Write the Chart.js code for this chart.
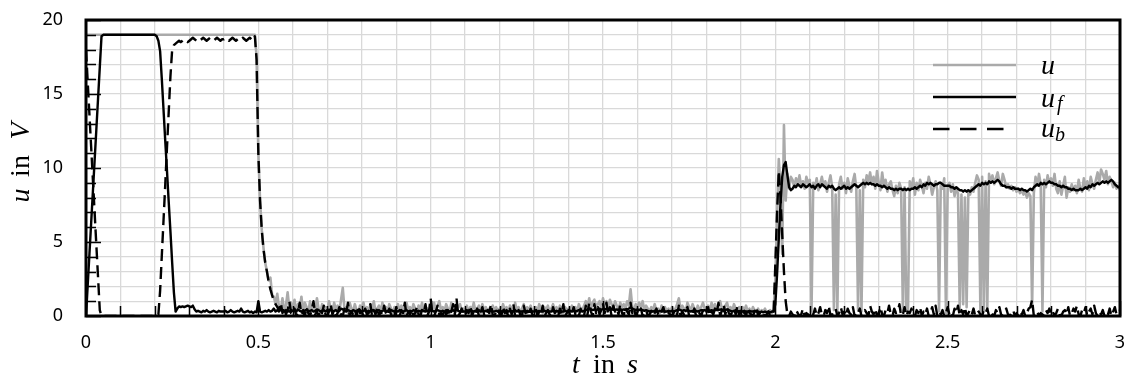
<!DOCTYPE html>
<html>
<head>
<meta charset="utf-8">
<script src="https://cdn.jsdelivr.net/npm/chart.js@4.4.1/dist/chart.umd.min.js"></script>
<style>
  html, body { margin: 0; padding: 0; background: #fff; }
</style>
</head>
<body>
<canvas id="voltage" width="1132" height="378"></canvas>
<script>
// sampling step of the recorded signals (s)
const dt = 0.005;

// measured voltage u, one row per 0.1 s
const u = [
  19, 19, 19, 19, 19, 19, 19, 19, 19, 19, 19, 19, 19, 19, 19, 19, 19, 19, 19, 19,
  19, 19, 19, 19, 19, 19, 19, 19, 19, 19, 19, 19, 19, 19, 19, 19, 19, 19, 19, 19,
  19, 19, 19, 19, 19, 19, 19, 19, 19, 19, 19, 19, 19, 19, 19, 19, 19, 19, 19, 19,
  19, 19, 19, 19, 19, 19, 19, 19, 19, 19, 19, 19, 19, 19, 19, 19, 19, 19, 19, 19,
  19, 19, 19, 19, 19, 19, 19, 19, 19, 19, 19, 19, 19, 19, 19, 19, 19, 19, 19, 17.5,
  11, 7.8, 5.8, 4.6, 3.6, 3.0, 2.4, 2.6, 1.4, 1.3, 0.8, 1.5, 0.6, 0.4, 1.2, 0.3, 0.7, 1.6, 0.5, 0.9,
  0.4, 1.1, 0.2, 0.8, 0.5, 1.3, 0.3, 0.9, 0.6, 0.2, 1.0, 0.4, 0.7, 0.3, 1.2, 0.5, 0.2, 0.8, 0.4, 0.6,
  0.3, 1.0, 0.5, 0.2, 0.9, 0.4, 0.7, 0.3, 1.1, 1.9, 0.4, 0.6, 0.2, 0.9, 0.5, 0.3, 0.8, 0.4, 0.2, 0.7,
  0.5, 0.9, 0.3, 0.6, 0.2, 0.8, 0.4, 1.0, 0.3, 0.5, 0.7, 0.2, 0.9, 0.4, 0.6, 0.3, 0.8, 0.5, 0.2, 0.6,
  0.4, 0.8, 0.3, 0.7, 0.5, 0.2, 0.9, 0.4, 0.6, 0.3, 0.8, 0.5, 0.2, 0.7, 0.4, 0.9, 0.3, 0.6, 0.5, 0.2,
  0.6, 0.4, 0.9, 0.3, 0.7, 1.0, 0.4, 0.6, 0.3, 0.8, 0.5, 0.2, 0.9, 0.4, 0.7, 0.3, 0.6, 0.8, 0.4, 0.5,
  0.3, 0.7, 0.2, 0.6, 0.4, 0.9, 0.3, 0.5, 0.7, 0.2, 0.8, 0.4, 0.6, 0.3, 0.5, 0.2, 0.7, 0.4, 0.6, 0.3,
  0.5, 0.3, 0.8, 0.4, 0.6, 0.2, 0.7, 0.5, 0.3, 0.9, 0.4, 0.6, 0.2, 0.5, 0.8, 0.3, 0.6, 0.4, 0.7, 0.3,
  0.4, 0.6, 0.3, 0.8, 0.5, 0.2, 0.6, 0.4, 0.7, 0.3, 0.5, 0.8, 0.4, 0.6, 0.3, 0.7, 0.5, 0.2, 0.6, 0.4,
  0.5, 0.3, 0.7, 0.4, 0.6, 0.3, 0.8, 0.5, 0.4, 0.7, 1.0, 0.6, 1.2, 0.5, 0.9, 1.1, 0.6, 0.8, 1.0, 0.5,
  1.2, 0.7, 1.0, 0.6, 1.1, 0.8, 0.5, 1.0, 0.7, 0.4, 0.9, 0.6, 0.8, 0.5, 1.0, 0.7, 1.8, 0.6, 0.4, 0.8,
  0.5, 0.9, 0.6, 1.0, 0.4, 0.7, 0.5, 0.3, 0.6, 0.4, 0.8, 0.3, 0.5, 0.2, 0.7, 0.4, 0.6, 0.3, 0.5, 0.2,
  0.6, 0.3, 0.5, 0.8, 1.2, 0.4, 0.7, 0.5, 0.3, 0.9, 0.6, 0.4, 0.8, 0.5, 0.3, 0.7, 0.4, 0.6, 0.9, 0.5,
  0.4, 0.7, 0.3, 0.9, 0.5, 0.8, 0.4, 0.6, 1.0, 0.5, 0.3, 0.7, 0.9, 0.4, 0.6, 0.3, 0.8, 0.5, 0.4, 0.6,
  0.3, 0.6, 0.4, 0.7, 0.3, 0.5, 0.2, 0.6, 0.4, 0.3, 0.5, 0.2, 0.4, 0.3, 0.5, 0.2, 0.3, 0.4, 0.2, 0.4,
  2.5, 6.5, 10.6, 8.5, 4.2, 12.9, 7.8, 9.6, 8.6, 9.4, 9.2, 8.7, 9.3, 8.9, 9.5, 8.8, 9.1, 8.6, 9.4, 9.0,
  9.2, 0.3, 9.0, 8.7, 9.3, 8.5, 8.9, 9.4, 8.8, 9.1, 8.4, 9.0, 9.5, 8.7, 0.4, 8.2, 0.3, 8.9, 9.4, 8.6,
  9.0, 8.3, 9.3, 8.8, 8.4, 9.1, 9.6, 8.6, 0.4, 8.5, 0.3, 9.2, 8.7, 9.5, 9.1, 9.7, 8.9, 9.4, 8.6, 9.8,
  9.0, 8.5, 9.7, 8.8, 9.2, 8.4, 8.9, 9.1, 8.5, 8.1, 8.8, 8.3, 9.0, 8.6, 0.4, 8.7, 0.3, 0.5, 9.1, 8.6,
  9.3, 8.2, 9.0, 8.5, 9.2, 8.8, 8.3, 9.0, 8.6, 9.4, 8.9, 8.2, 8.7, 9.1, 8.5, 0.3, 9.0, 8.6, 9.3, 0.2,
  8.8, 9.0, 8.4, 8.9, 8.1, 8.6, 8.3, 0.5, 8.2, 0.8, 8.0, 0.6, 8.5, 8.2, 8.7, 8.4, 9.0, 9.5, 9.2, 0.3,
  9.4, 0.4, 9.1, 0.5, 9.6, 9.0, 9.5, 8.9, 9.3, 9.7, 9.1, 8.8, 9.6, 9.2, 8.7, 8.9, 8.6, 8.8, 8.5, 8.7,
  8.4, 8.6, 8.3, 8.5, 8.2, 8.4, 8.0, 8.3, 8.1, 0.6, 8.3, 9.4, 8.8, 9.6, 8.9, 0.3, 9.2, 8.7, 9.5, 9.0,
  9.3, 8.8, 9.6, 8.6, 8.3, 9.1, 8.2, 8.8, 9.4, 8.0, 8.7, 8.4, 8.9, 8.5, 8.8, 8.3, 9.2, 8.6, 8.4, 9.3,
  8.7, 9.1, 8.5, 9.4, 8.9, 8.6, 9.2, 9.7, 9.0, 9.9, 9.6, 9.2, 9.8, 8.9, 9.4, 9.1, 8.7, 9.0, 8.6, 8.8,
  8.5
];

// u_f
const uF = [
  0, 2.1, 4.2, 6.3, 8.4, 10.5, 12.6, 14.7, 16.8, 18.9, 19, 19, 19, 19, 19, 19, 19, 19, 19, 19,
  19, 19, 19, 19, 19, 19, 19, 19, 19, 19, 19, 19, 19, 19, 19, 19, 19, 19, 19, 19,
  19, 18.9, 18.6, 17.9, 16.0, 13.9, 11.8, 9.8, 7.7, 5.7, 3.6, 1.6, 0.3, 0.5, 0.65, 0.6, 0.65, 0.6, 0.65, 0.7,
  0.65, 0.6, 0.7, 0.45, 0.3, 0.35, 0.3, 0.25, 0.35, 0.3, 0.4, 0.3, 0.25, 0.3, 0.35, 0.3, 0.25, 0.35, 0.3, 0.3,
  0.3, 0.35, 0.25, 0.3, 0.4, 0.3, 0.25, 0.3, 0.35, 0.3, 0.5, 0.3, 0.25, 0.3, 0.35, 0.25, 0.3, 0.2, 0.3, 0.25,
  1.0, 0.3, 0.25, 0.3, 0.35, 0.3, 0.4, 0.3, 0.35, 0.5, 0.3, 0.4, 0.3, 0.45, 0.35, 0.3, 0.4, 0.35, 0.3, 0.4,
  0.35, 0.4, 0.3, 0.45, 0.35, 0.3, 0.4, 0.35, 0.45, 0.3, 0.35, 0.4, 0.3, 0.35, 0.45, 0.4, 0.3, 0.35, 0.4, 0.3,
  0.4, 0.35, 0.45, 0.3, 0.35, 0.4, 0.3, 0.35, 0.5, 0.45, 0.35, 0.3, 0.4, 0.35, 0.3, 0.4, 0.35, 0.3, 0.35, 0.4,
  0.3, 0.35, 0.4, 0.3, 0.35, 0.3, 0.4, 0.35, 0.3, 0.35, 0.4, 0.3, 0.35, 0.4, 0.3, 0.35, 0.3, 0.4, 0.35, 0.3,
  0.35, 0.3, 0.4, 0.35, 0.3, 0.35, 0.4, 0.3, 0.35, 0.3, 0.4, 0.35, 0.3, 0.35, 0.3, 0.4, 0.35, 0.3, 0.35, 0.3,
  0.4, 0.35, 0.3, 0.35, 0.4, 0.35, 0.3, 0.35, 0.3, 0.4, 0.35, 0.3, 0.35, 0.4, 0.3, 0.45, 0.35, 0.3, 0.35, 0.3,
  0.3, 0.35, 0.3, 0.4, 0.35, 0.3, 0.35, 0.3, 0.4, 0.3, 0.35, 0.3, 0.35, 0.3, 0.4, 0.35, 0.3, 0.3, 0.35, 0.3,
  0.35, 0.3, 0.35, 0.3, 0.4, 0.3, 0.35, 0.3, 0.35, 0.4, 0.3, 0.35, 0.3, 0.3, 0.35, 0.3, 0.35, 0.3, 0.4, 0.3,
  0.3, 0.35, 0.3, 0.35, 0.3, 0.3, 0.35, 0.3, 0.35, 0.3, 0.3, 0.35, 0.3, 0.35, 0.3, 0.35, 0.3, 0.3, 0.35, 0.3,
  0.3, 0.35, 0.3, 0.35, 0.3, 0.35, 0.4, 0.35, 0.3, 0.35, 0.4, 0.45, 0.5, 0.45, 0.4, 0.45, 0.4, 0.45, 0.5, 0.4,
  0.5, 0.45, 0.5, 0.4, 0.45, 0.5, 0.45, 0.4, 0.45, 0.4, 0.45, 0.4, 0.45, 0.4, 0.45, 0.5, 0.6, 0.5, 0.45, 0.4,
  0.45, 0.4, 0.45, 0.4, 0.35, 0.4, 0.35, 0.3, 0.35, 0.3, 0.35, 0.3, 0.3, 0.35, 0.3, 0.35, 0.3, 0.3, 0.35, 0.3,
  0.35, 0.3, 0.35, 0.4, 0.45, 0.4, 0.35, 0.4, 0.35, 0.4, 0.35, 0.3, 0.35, 0.4, 0.35, 0.3, 0.35, 0.4, 0.35, 0.4,
  0.35, 0.4, 0.35, 0.4, 0.35, 0.4, 0.45, 0.4, 0.45, 0.4, 0.35, 0.4, 0.45, 0.4, 0.35, 0.3, 0.35, 0.4, 0.35, 0.3,
  0.35, 0.3, 0.35, 0.3, 0.3, 0.35, 0.3, 0.3, 0.35, 0.3, 0.3, 0.25, 0.3, 0.25, 0.3, 0.25, 0.3, 0.25, 0.3, 0.3,
  0.8, 2.8, 5.2, 7.6, 9.4, 10.2, 10.4, 9.5, 8.7, 8.5, 8.6, 8.8, 8.7, 8.9, 8.8, 8.7, 8.9, 8.8, 8.7, 8.8,
  8.9, 8.7, 8.8, 8.6, 8.8, 8.9, 8.7, 8.9, 8.8, 8.7, 8.6, 8.8, 8.7, 8.8, 8.6, 8.5, 8.6, 8.7, 8.6, 8.7,
  8.8, 8.6, 8.7, 8.6, 8.7, 8.8, 8.9, 8.8, 8.7, 8.8, 8.9, 9.0, 8.9, 9.0, 8.9, 9.0, 8.9, 8.9, 8.8, 8.9,
  8.8, 8.8, 8.7, 8.8, 8.7, 8.6, 8.7, 8.6, 8.6, 8.5, 8.6, 8.5, 8.6, 8.6, 8.5, 8.6, 8.5, 8.6, 8.5, 8.6,
  8.6, 8.7, 8.6, 8.7, 8.8, 8.7, 8.9, 8.8, 9.0, 8.9, 9.0, 8.9, 8.8, 8.9, 8.9, 9.0, 9.0, 8.9, 8.8, 8.8,
  8.8, 8.8, 8.7, 8.7, 8.6, 8.7, 8.6, 8.5, 8.5, 8.4, 8.5, 8.4, 8.5, 8.4, 8.5, 8.6, 8.7, 8.8, 8.9, 8.8,
  9.0, 8.9, 9.0, 8.9, 9.1, 9.0, 9.1, 9.0, 9.1, 9.2, 9.1, 8.9, 8.8, 8.8, 8.7, 8.7, 8.7, 8.6, 8.7, 8.6,
  8.6, 8.6, 8.5, 8.6, 8.5, 8.5, 8.4, 8.5, 8.6, 8.5, 8.7, 8.8, 8.9, 8.8, 9.0, 8.9, 9.0, 8.9, 9.0, 9.1,
  9.0, 9.0, 8.9, 8.9, 8.8, 8.8, 8.7, 8.8, 8.7, 8.7, 8.6, 8.6, 8.5, 8.6, 8.5, 8.5, 8.5, 8.6, 8.5, 8.6,
  8.7, 8.6, 8.8, 8.7, 8.9, 8.8, 8.9, 9.0, 8.9, 9.0, 9.1, 9.0, 9.1, 9.0, 9.1, 9.2, 9.1, 8.9, 8.8, 8.7,
  8.7
];

// u_b
const uB = [
  18, 15.8, 13.6, 11.4, 9.2, 7.0, 4.8, 2.6, 0.4, 0, 0, 0, 0, 0, 0, 0, 0, 0, 0, 0,
  0, 0, 0, 0, 0, 0, 0, 0, 0, 0, 0, 0, 0, 0, 0, 0, 0, 0, 0, 0,
  0, 0, 0.1, 1.7, 4.1, 6.5, 8.9, 11.4, 13.8, 16.2, 18.0, 18.3, 18.4, 18.5, 18.6, 18.5, 18.6, 18.7, 18.6, 18.5,
  18.6, 18.7, 18.8, 18.7, 18.6, 18.5, 18.6, 18.7, 18.8, 18.7, 18.6, 18.7, 18.8, 18.7, 18.6, 18.7, 18.8, 18.7, 18.6, 18.7,
  18.7, 18.8, 18.7, 18.6, 18.7, 18.8, 18.7, 18.6, 18.7, 18.8, 18.7, 18.8, 18.7, 18.6, 18.7, 18.8, 18.7, 18.6, 18.9, 17.3,
  11, 7.8, 5.8, 4.5, 3.6, 3.0, 2.3, 1.8, 1.4, 1.0, 0.8, 0.6, 0.4, 0.9, 0.2, 0.6, 0.1, 0.4, 1.0, 0.2,
  0.1, 0.5, 0.0, 0.2, 0.9, 0.1, 0.3, 0.0, 0.6, 0.2, 0.0, 0.4, 1.0, 0.1, 0.3, 0.0, 0.5, 0.2, 0.7, 0.1,
  0.0, 0.3, 0.8, 0.1, 0.4, 0.0, 0.2, 0.6, 0.1, 0.0, 0.5, 0.2, 0.9, 0.0, 0.3, 0.1, 0.4, 0.0, 0.7, 0.2,
  0.3, 0.0, 0.5, 0.1, 0.2, 0.8, 0.0, 0.4, 0.1, 0.6, 0.0, 0.3, 0.1, 0.7, 0.2, 0.0, 0.5, 0.1, 0.3, 0.0,
  0.6, 0.1, 0.0, 0.4, 0.2, 0.9, 0.0, 0.3, 0.1, 0.5, 0.0, 0.2, 0.6, 0.1, 0.0, 0.4, 0.2, 0.8, 0.0, 0.3,
  1.2, 0.1, 0.0, 0.3, 0.7, 0.1, 0.2, 0.0, 0.5, 0.1, 0.4, 0.0, 0.3, 0.8, 0.1, 1.2, 0.0, 0.2, 0.5, 0.1,
  0.0, 0.4, 0.2, 0.7, 0.0, 0.3, 0.1, 0.5, 0.0, 0.2, 0.6, 0.1, 0.0, 0.4, 0.2, 0.8, 0.1, 0.0, 0.3, 0.5,
  0.1, 0.0, 0.6, 0.2, 0.3, 0.0, 0.5, 0.1, 0.8, 0.0, 0.2, 0.4, 0.1, 0.0, 0.7, 0.2, 0.3, 0.0, 0.5, 0.1,
  0.2, 0.5, 0.0, 0.3, 0.1, 0.7, 0.0, 0.2, 0.4, 0.1, 0.0, 0.6, 0.2, 0.3, 0.0, 0.5, 0.1, 0.8, 0.0, 0.2,
  0.4, 0.0, 0.2, 0.6, 0.1, 0.3, 0.0, 0.5, 0.2, 0.0, 0.7, 0.1, 0.9, 0.3, 0.0, 0.8, 0.2, 0.6, 0.1, 0.4,
  0.8, 0.2, 0.9, 0.1, 0.6, 0.0, 0.7, 0.3, 0.5, 0.1, 0.8, 0.2, 0.0, 0.6, 0.3, 0.1, 0.9, 0.2, 0.5, 0.0,
  0.3, 0.1, 0.5, 0.0, 0.2, 0.4, 0.0, 0.1, 0.3, 0.0, 0.2, 0.5, 0.1, 0.0, 0.3, 0.6, 0.1, 0.0, 0.2, 0.1,
  0.0, 0.2, 0.5, 0.1, 0.7, 0.0, 0.3, 0.1, 0.4, 0.6, 0.0, 0.2, 0.1, 0.5, 0.0, 0.3, 0.2, 0.0, 0.4, 0.1,
  0.2, 0.6, 0.0, 0.3, 0.1, 0.5, 0.2, 0.9, 0.0, 0.4, 0.8, 0.1, 0.6, 0.2, 0.0, 0.3, 0.5, 0.1, 0.7, 0.0,
  0.4, 0.1, 0.3, 0.0, 0.5, 0.2, 0.1, 0.0, 0.3, 0.6, 0.0, 0.2, 0.4, 0.1, 0.0, 0.1, 0.3, 0.0, 0.1, 0.2,
  3.5, 7.0, 9.8, 8.0, 5.5, 3.0, 1.0, 0.1, 0.0, 0.3, 0.1, 0.0, 0.4, 0.2, 0.0, 0.1, 0.5, 0.0, 0.2, 0.1,
  0.0, 0.3, 0.1, 0.5, 0.0, 0.2, 0.6, 0.1, 0.0, 0.4, 0.2, 0.7, 0.0, 0.1, 0.3, 0.5, 0.0, 0.2, 0.6, 0.1,
  0.3, 0.0, 0.5, 0.2, 0.1, 0.6, 0.0, 0.3, 0.2, 0.5, 0.0, 0.1, 0.4, 0.2, 0.0, 0.7, 0.3, 0.1, 0.5, 0.0,
  0.2, 0.6, 0.1, 0.0, 0.4, 0.2, 0.7, 0.1, 0.0, 0.5, 0.2, 0.3, 0.8, 0.0, 0.1, 0.6, 0.0, 0.3, 0.2, 0.5,
  0.1, 0.0, 0.4, 0.2, 0.6, 0.0, 0.3, 0.1, 0.5, 0.0, 0.2, 0.6, 0.1, 0.7, 0.0, 0.3, 0.1, 0.4, 0.0, 0.2,
  0.6, 0.1, 0.3, 0.0, 0.5, 0.2, 0.7, 0.0, 0.4, 0.1, 0.6, 0.0, 0.2, 0.4, 0.1, 0.5, 0.0, 0.2, 0.3, 0.1,
  0.0, 0.4, 0.2, 0.5, 0.0, 0.3, 0.1, 0.0, 0.4, 0.2, 0.6, 0.1, 0.0, 0.3, 0.5, 0.1, 0.0, 0.2, 0.4, 0.0,
  0.2, 0.0, 0.3, 0.1, 0.4, 0.0, 0.2, 0.5, 0.6, 1.1, 0.0, 0.1, 0.3, 0.0, 0.2, 0.1, 0.0, 0.4, 0.2, 0.5,
  0.1, 0.3, 0.0, 0.2, 0.5, 0.1, 0.0, 0.3, 0.4, 0.1, 0.6, 0.0, 0.2, 0.5, 0.3, 0.7, 0.1, 0.0, 0.4, 0.2,
  0.6, 0.0, 0.3, 0.5, 0.1, 0.7, 0.2, 0.0, 0.3, 0.1, 0.4, 0.0, 0.2, 0.1, 0.5, 0.0, 0.3, 0.6, 0.1, 0.2,
  0.4
];

// labelled ticks
const xMajor = [0, 0.5, 1, 1.5, 2, 2.5, 3];
const yMajor = [0, 5, 10, 15, 20];

const toPoints = vals => vals.map((v, i) => ({ x: i * dt, y: v }));
const isMajor = (list, v) => list.some(m => Math.abs(m - v) < 1e-6);

const serif = 'Liberation Serif';
const mathIt = size => 'italic ' + size + 'px "' + serif + '"';
const mathRm = size => size + 'px "' + serif + '"';

// frame, inward ticks, axis titles and legend
const decorations = {
  id: 'decorations',
  afterDatasetsDraw(chart) {
    const { ctx, chartArea: a, scales: { x, y } } = chart;
    ctx.save();
    ctx.strokeStyle = '#000';
    ctx.lineWidth = 1.5;
    ctx.beginPath();
    y.ticks.forEach(t => {
      const py = Math.round(y.getPixelForValue(t.value)) + 0.5;
      const len = isMajor(yMajor, t.value) ? 15 : 10;
      ctx.moveTo(a.left, py);
      ctx.lineTo(a.left + len, py);
    });
    x.ticks.forEach(t => {
      const px = Math.round(x.getPixelForValue(t.value)) + 0.5;
      const len = isMajor(xMajor, t.value) ? 15 : 10;
      ctx.moveTo(px, a.bottom);
      ctx.lineTo(px, a.bottom - len);
    });
    ctx.stroke();
    ctx.lineWidth = 3;
    ctx.strokeRect(a.left, a.top, a.right - a.left, a.bottom - a.top);
    ctx.restore();
  },
  afterDraw(chart) {
    const { ctx } = chart;
    ctx.save();
    ctx.fillStyle = '#000';
    ctx.textAlign = 'center';
    ctx.textBaseline = 'alphabetic';

    // x title: t in s
    ctx.save();
    ctx.translate(604, 373);
    ctx.font = mathIt(28); ctx.fillText('t', -28, 0);
    ctx.font = mathRm(28); ctx.fillText('in', 0, 0);
    ctx.font = mathIt(28); ctx.fillText('s', 28.5, 0);
    ctx.restore();

    // y title: u in V
    ctx.save();
    ctx.translate(29, 166);
    ctx.rotate(-Math.PI / 2);
    ctx.font = mathIt(28); ctx.fillText('u', -29.5, 0);
    ctx.font = mathRm(28); ctx.fillText('in', 0, 0);
    ctx.font = mathIt(28); ctx.fillText('V', 35, 0);
    ctx.restore();

    // legend
    const x0 = 933, x1 = 1016;
    ctx.lineWidth = 2.5;
    ctx.strokeStyle = '#aaaaaa';
    ctx.beginPath(); ctx.moveTo(x0, 65); ctx.lineTo(x1, 65); ctx.stroke();
    ctx.strokeStyle = '#000';
    ctx.beginPath(); ctx.moveTo(x0, 97); ctx.lineTo(x1, 97); ctx.stroke();
    ctx.setLineDash([16.5, 10.5]);
    ctx.beginPath(); ctx.moveTo(x0, 129); ctx.lineTo(1004, 129); ctx.stroke();
    ctx.setLineDash([]);

    ctx.textAlign = 'left';
    ctx.font = mathIt(28);
    ctx.fillText('u', 1041, 74);
    ctx.fillText('u', 1041, 107);
    ctx.fillText('u', 1041, 137);
    ctx.font = mathIt(20);
    ctx.fillText('f', 1057, 110);
    ctx.fillText('b', 1055, 141);
    ctx.restore();
  }
};

Chart.defaults.font.family = 'Noto Sans';
Chart.defaults.font.size = 18;
Chart.defaults.color = '#000';

const line = {
  pointRadius: 0,
  pointHoverRadius: 0,
  tension: 0,
  fill: false,
  borderJoinStyle: 'round'
};

new Chart(document.getElementById('voltage'), {
  type: 'line',
  data: {
    datasets: [
      Object.assign({ label: 'u', data: toPoints(u), borderColor: '#aaaaaa', borderWidth: 2.6, order: 3 }, line),
      Object.assign({ label: 'u_f', data: toPoints(uF), borderColor: '#000', borderWidth: 2.4, order: 2 }, line),
      Object.assign({ label: 'u_b', data: toPoints(uB), borderColor: '#000', borderWidth: 2.4, borderDash: [12, 6], order: 1 }, line)
    ]
  },
  options: {
    responsive: false,
    animation: false,
    events: [],
    layout: { padding: { top: 20, right: 12, left: 0, bottom: 0 } },
    plugins: { legend: { display: false }, tooltip: { enabled: false } },
    scales: {
      x: {
        type: 'linear',
        min: 0,
        max: 3,
        // fixed axis band; label overhang is already covered by the layout padding
        afterFit: scale => {
          scale.height = 62;
          scale.paddingLeft = 0;
          scale.paddingRight = 0;
        },
        border: { display: false },
        grid: { color: '#d9d9d9', lineWidth: 1.3, drawTicks: false },
        ticks: {
          stepSize: 0.1,
          autoSkip: false,
          maxRotation: 0,
          padding: 16,
          callback: v => {
            const m = xMajor.find(k => Math.abs(k - v) < 1e-6);
            return m === undefined ? '' : String(m);
          }
        }
      },
      y: {
        min: 0,
        max: 20,
        afterFit: scale => {
          scale.width = 86;
          scale.paddingTop = 0;
          scale.paddingBottom = 0;
        },
        border: { display: false },
        grid: { color: '#d9d9d9', lineWidth: 1.3, drawTicks: false },
        ticks: {
          stepSize: 1,
          autoSkip: false,
          padding: 23,
          callback: v => isMajor(yMajor, v) ? String(v) : ''
        }
      }
    }
  },
  plugins: [decorations]
});
</script>
</body>
</html>
